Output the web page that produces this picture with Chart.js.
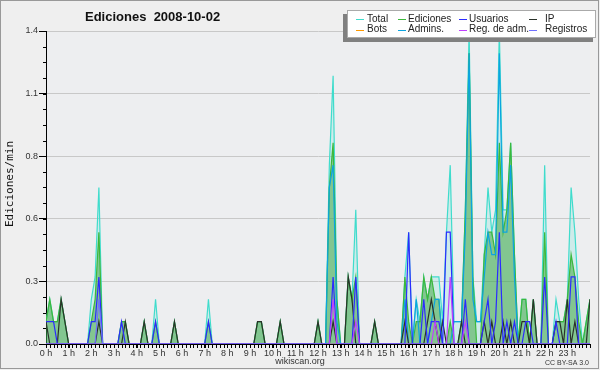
<!DOCTYPE html>
<html>
<head>
<meta charset="utf-8">
<script src="https://cdn.jsdelivr.net/npm/chart.js@4.4.1/dist/chart.umd.min.js"></script>
<style>
  html, body { margin: 0; padding: 0; background: #efefef; }
  #wrap { width: 600px; height: 370px; }
</style>
</head>
<body>
<div id="wrap"><canvas id="chart" width="600" height="370"></canvas></div>
<script>
// one value every 10 minutes, 00:00 .. 24:00 (edits/min)
const total = [
  .1,.2,.1,.1,.2,.1,0,0,0,0,0,0,
  .2,.3,.7,0,0,0,0,0,.1,.1,0,0,
  0,0,.1,0,0,.2,0,0,0,0,.1,0,
  0,0,0,0,0,0,0,.2,0,0,0,0,
  0,0,0,0,0,0,0,0,.1,.1,0,0,
  0,0,.1,0,0,0,0,0,0,0,0,0,
  .1,0,0,.8,1.2,.2,0,0,.3,.2,.6,0,
  0,0,0,.1,0,0,0,0,0,0,0,.3,
  .5,0,.2,.1,.3,.2,.3,.3,.3,.1,.5,.8,
  .1,.1,.1,.6,1.4,.3,.1,.1,.4,.7,.5,.6,
  1.4,.6,.6,.9,.4,0,.2,.2,0,.2,0,0,
  .8,0,0,.2,.1,.1,.2,.7,.5,.2,0,.1,
  .2
];
const ediciones = [
  .1,.2,.1,.1,.2,.1,0,0,0,0,0,0,
  .1,.2,.5,0,0,0,0,0,.1,.1,0,0,
  0,0,.1,0,0,.1,0,0,0,0,.1,0,
  0,0,0,0,0,0,0,.1,0,0,0,0,
  0,0,0,0,0,0,0,0,.1,.1,0,0,
  0,0,.1,0,0,0,0,0,0,0,0,0,
  .1,0,0,.7,.9,.2,0,0,.3,.2,.3,0,
  0,0,0,.1,0,0,0,0,0,0,0,.3,
  .1,0,.1,.1,.3,.2,.3,.2,.2,0,0,.1,
  0,0,.1,.6,1.3,.3,0,0,.4,.5,.5,.4,
  .9,.5,.6,.9,.4,0,.2,.2,0,.2,0,0,
  .5,0,0,.1,.1,.1,.2,.4,.3,.1,0,.1,
  .2
];
const usuarios = [
  .1,.1,.1,0,0,0,0,0,0,0,0,0,
  .1,.1,.3,0,0,0,0,0,.1,0,0,0,
  0,0,0,0,0,.1,0,0,0,0,0,0,
  0,0,0,0,0,0,0,.1,0,0,0,0,
  0,0,0,0,0,0,0,0,0,0,0,0,
  0,0,0,0,0,0,0,0,0,0,0,0,
  0,0,0,0,.3,0,0,0,0,0,.3,0,
  0,0,0,0,0,0,0,0,0,0,0,0,
  .5,0,0,0,.2,0,.1,.1,.1,0,.5,.5,
  0,0,0,.2,0,0,0,0,.1,.2,0,.1,
  .5,0,.1,0,.1,0,0,.1,.1,0,0,0,
  .3,0,0,.1,0,0,0,.3,.3,0,0,0,
  0
];
const ip = [
  .1,0,0,0,.2,.1,0,0,0,0,0,0,
  0,0,.1,0,0,0,0,0,0,.1,0,0,
  0,0,.1,0,0,0,0,0,0,0,.1,0,
  0,0,0,0,0,0,0,0,0,0,0,0,
  0,0,0,0,0,0,0,0,.1,.1,0,0,
  0,0,.1,0,0,0,0,0,0,0,0,0,
  .1,0,0,0,.1,0,0,0,.3,.2,0,0,
  0,0,0,.1,0,0,0,0,0,0,0,.1,
  0,0,0,0,0,.1,.2,.1,0,.1,0,0,
  0,0,.1,0,0,0,0,0,.1,0,.1,0,
  0,.1,0,.1,0,0,.1,.1,0,.2,0,0,
  0,0,0,.1,.1,0,.2,0,.1,0,0,0,
  .2
];
const bots = [
  0,0,0,0,0,0,0,0,0,0,0,0,
  0,0,0,0,0,0,0,0,0,0,0,0,
  0,0,0,0,0,0,0,0,0,0,0,0,
  0,0,0,0,0,0,0,0,0,0,0,0,
  0,0,0,0,0,0,0,0,0,0,0,0,
  0,0,0,0,0,0,0,0,0,0,0,0,
  0,0,0,0,0,0,0,0,0,0,0,0,
  0,0,0,0,0,0,0,0,0,0,0,0,
  0,0,0,0,0,0,0,0,0,0,0,0,
  0,0,0,0,0,0,0,0,0,0,0,0,
  0,0,0,0,0,0,0,0,0,0,0,0,
  0,0,0,0,0,0,0,0,0,0,0,0,
  0
];
const admins = [
  0,0,0,0,0,0,0,0,0,0,0,0,
  0,0,0,0,0,0,0,0,0,0,0,0,
  0,0,0,0,0,0,0,0,0,0,0,0,
  0,0,0,0,0,0,0,0,0,0,0,0,
  0,0,0,0,0,0,0,0,0,0,0,0,
  0,0,0,0,0,0,0,0,0,0,0,0,
  0,0,0,.7,.8,.1,0,0,0,0,0,0,
  0,0,0,0,0,0,0,0,0,0,0,.2,
  0,0,.2,0,0,0,.1,.2,.2,0,0,0,
  .1,.1,.1,.5,1.3,.2,.1,.1,.3,.5,.4,.4,
  1.3,.5,.5,.8,.3,0,0,0,0,0,0,0,
  0,0,0,0,0,0,0,0,0,0,0,0,
  0
];
const regAdm = [
  0,0,0,0,0,0,0,0,0,0,0,0,
  0,0,0,0,0,0,0,0,0,0,0,0,
  0,0,0,0,0,0,0,0,0,0,0,0,
  0,0,0,0,0,0,0,0,0,0,0,0,
  0,0,0,0,0,0,0,0,0,0,0,0,
  0,0,0,0,0,0,0,0,0,0,0,0,
  0,0,0,0,.2,0,0,0,0,0,.1,0,
  0,0,0,0,0,0,0,0,0,0,0,0,
  0,0,0,0,0,0,0,.1,0,0,0,.3,
  0,0,0,.1,0,0,0,0,0,0,0,0,
  0,0,0,0,0,0,0,0,0,0,0,0,
  0,0,0,0,0,0,0,0,0,0,0,0,
  0
];
const registros = [
  0,0,0,0,0,0,0,0,0,0,0,0,
  0,0,.2,0,0,0,0,0,0,0,0,0,
  0,0,0,0,0,0,0,0,0,0,0,0,
  0,0,0,0,0,0,0,0,0,0,0,0,
  0,0,0,0,0,0,0,0,0,0,0,0,
  0,0,0,0,0,0,0,0,0,0,0,0,
  0,0,0,0,0,0,0,0,0,0,0,0,
  0,0,0,0,0,0,0,0,0,0,0,0,
  0,0,0,0,0,0,0,0,0,0,0,0,
  0,0,0,0,0,0,0,0,0,0,0,0,
  0,0,0,0,0,0,0,0,0,0,0,0,
  0,0,0,0,0,0,0,0,0,0,0,0,
  0
];

const seriesNames = ["Total", "Ediciones", "Usuarios", "IP", "Bots", "Admins.", "Reg. de adm.", "Registros"];
const hourLabels = ["0 h","1 h","2 h","3 h","4 h","5 h","6 h","7 h","8 h","9 h","10 h","11 h",
                    "12 h","13 h","14 h","15 h","16 h","17 h","18 h","19 h","20 h","21 h","22 h","23 h"];
const hourTicks = [0,6,12,18,24,30,36,42,48,54,60,66,72,78,84,90,96,102,108,114,120,126,132,138];
const yTickValues = [0, 0.28, 0.56, 0.84, 1.12, 1.4];
const yTickLabels = ["0.0", "0.3", "0.6", "0.8", "1.1", "1.4"];

const colors = ["#3fdccc", "#3cb83c", "#2b2bff", "#2a322a", "#ff9900", "#0ca4e0", "#c040ff", "#7070ff"];

function makeSet(i, values, fillColor, order) {
  return {
    label: seriesNames[i],
    data: values.map((v, k) => ({ x: k, y: v })),
    borderColor: colors[i],
    backgroundColor: fillColor || colors[i],
    fill: fillColor ? "origin" : false,
    borderWidth: 1.2,
    pointRadius: 0,
    tension: 0,
    order: order
  };
}

const decor = {
  id: "decor",
  beforeDraw(chart) {
    const { ctx, chartArea: a } = chart;
    ctx.save();
    ctx.fillStyle = "#efefef";
    ctx.fillRect(0, 0, 600, 370);
    ctx.fillStyle = "#edeef0";
    ctx.fillRect(a.left, a.top, a.right - a.left, a.bottom - a.top);
    ctx.restore();
  },
  afterDraw(chart) {
    const { ctx, chartArea: a } = chart;
    const x = chart.scales.x, y = chart.scales.y;
    ctx.save();

    // minor ticks
    ctx.strokeStyle = "#000";
    ctx.lineWidth = 1;
    ctx.beginPath();
    for (let k = 0; k <= 144; k++) {
      const px = Math.round(x.getPixelForValue(k)) + 0.5;
      ctx.moveTo(px, a.bottom);
      ctx.lineTo(px, a.bottom + 4);
    }
    for (let v = 0.07; v < 1.4; v += 0.07) {
      const py = Math.round(y.getPixelForValue(v)) + 0.5;
      ctx.moveTo(a.left - 3, py);
      ctx.lineTo(a.left, py);
    }
    ctx.stroke();

    // title
    ctx.fillStyle = "#111";
    ctx.font = "bold 13px 'Liberation Sans'";
    ctx.textAlign = "left";
    ctx.textBaseline = "alphabetic";
    ctx.fillText("Ediciones  2008-10-02", 85, 21);

    // y axis title
    ctx.save();
    ctx.translate(10, 184);
    ctx.rotate(-Math.PI / 2);
    ctx.font = "11px 'DejaVu Sans Mono'";
    ctx.textAlign = "center";
    ctx.textBaseline = "middle";
    ctx.fillText("Ediciones/min", 0, 0);
    ctx.restore();

    // footer
    ctx.fillStyle = "#333";
    ctx.font = "9px 'Liberation Sans'";
    ctx.textAlign = "center";
    ctx.textBaseline = "middle";
    ctx.fillText("wikiscan.org", 300, 362);
    ctx.font = "7px 'Liberation Sans'";
    ctx.textAlign = "right";
    ctx.fillText("CC BY-SA 3.0", 589, 363);

    // legend
    ctx.fillStyle = "#808080";
    ctx.fillRect(343, 14, 250, 28);
    ctx.fillStyle = "#fff";
    ctx.fillRect(347, 10, 249, 28);
    ctx.strokeStyle = "#aaa";
    ctx.strokeRect(347.5, 10.5, 248, 27);
    const lineX = [356, 398, 459, 529];
    const textX = [367, 408, 469, 545];
    const rowY = [19, 29.5];
    ctx.font = "10px 'Liberation Sans'";
    ctx.textAlign = "left";
    for (let i = 0; i < seriesNames.length; i++) {
      const c = i % 4, r = Math.floor(i / 4);
      ctx.strokeStyle = colors[i];
      ctx.beginPath();
      ctx.moveTo(lineX[c], Math.round(rowY[r]) + 0.5);
      ctx.lineTo(lineX[c] + 8, Math.round(rowY[r]) + 0.5);
      ctx.stroke();
      ctx.fillStyle = "#222";
      ctx.fillText(seriesNames[i], textX[c], rowY[r]);
    }

    // frame
    ctx.strokeStyle = "#999";
    ctx.strokeRect(0.5, 0.5, 598, 368);
    ctx.restore();
  }
};

new Chart(document.getElementById("chart"), {
  type: "line",
  data: {
    datasets: [
      makeSet(0, total, "rgba(64,224,208,0.18)", 10),
      makeSet(1, ediciones, "rgba(50,160,50,0.49)", 9),
      makeSet(2, usuarios, null, 3),
      makeSet(3, ip, null, 4),
      makeSet(4, bots, null, 8),
      makeSet(5, admins, null, 5),
      makeSet(6, regAdm, null, 2),
      makeSet(7, registros, null, 1)
    ]
  },
  options: {
    responsive: false,
    animation: false,
    devicePixelRatio: 1,
    layout: { padding: { left: 0, right: 10, top: 31, bottom: 0 } },
    plugins: { legend: { display: false }, title: { display: false }, tooltip: { enabled: false } },
    scales: {
      x: {
        type: "linear",
        min: 0,
        max: 144,
        afterBuildTicks: (axis) => { axis.ticks = hourTicks.map(v => ({ value: v })); },
        afterFit: (axis) => { axis.height = 26; },
        grid: { drawOnChartArea: false, drawTicks: true, tickLength: 4, tickColor: "#000" },
        border: { color: "#000" },
        ticks: {
          autoSkip: false,
          maxRotation: 0,
          padding: 0,
          color: "#333",
          font: { family: "'Liberation Sans'", size: 9 },
          callback: (v, i) => hourLabels[i]
        }
      },
      y: {
        min: 0,
        max: 1.4,
        afterBuildTicks: (axis) => { axis.ticks = yTickValues.map(v => ({ value: v })); },
        afterFit: (axis) => { axis.width = 46; },
        grid: { color: "#c8c8c8", tickColor: "#000", tickLength: 7 },
        border: { color: "#000" },
        ticks: {
          padding: 1,
          color: "#333",
          font: { family: "'Liberation Sans'", size: 9 },
          callback: (v, i) => yTickLabels[i]
        }
      }
    }
  },
  plugins: [decor]
});
</script>
</body>
</html>
